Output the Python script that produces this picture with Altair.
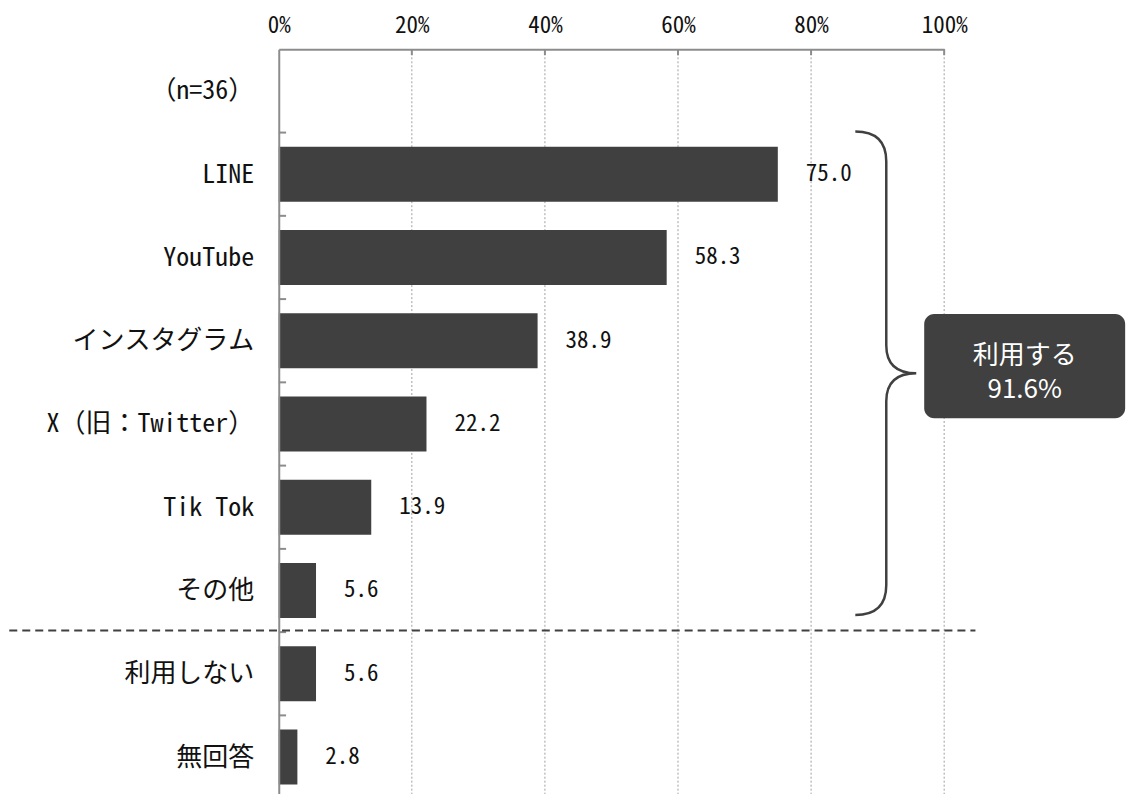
import json
import altair as alt
import pandas as pd

# ---- data ----
categories = ["（n=36）", "LINE", "YouTube", "インスタグラム", "X（旧：Twitter）",
              "Tik Tok", "その他", "利用しない", "無回答"]
values = [None, 75.0, 58.3, 38.9, 22.2, 13.9, 5.6, 5.6, 2.8]
x_tick_values = [0, 20, 40, 60, 80, 100]
grid_values = [20, 40, 60, 80, 100]
summary_text = "利用する\n91.6%"
separator_row = [6.98]       # boundary between その他 and 利用しない
row_boundaries = [1, 2, 3, 4, 5, 6, 7, 8]

# ---- style constants ----
FONT = "Noto Sans Mono CJK JP, Noto Sans CJK JP"
BAR = "#404040"
AXIS = "#8c8c8c"
BAR_HALF = 0.33

bars = pd.DataFrame([
    {"row": i + 0.5, "y0": i + 0.5 - BAR_HALF, "y1": i + 0.5 + BAR_HALF,
     "value": v, "label": f"{v:.1f}"}
    for i, v in enumerate(values) if v is not None
])

xs = alt.Scale(domain=[0, 100], nice=False, zero=False)
ys = alt.Scale(domain=[0, len(categories)], nice=False, zero=False, reverse=True)

x_axis = alt.Axis(orient="top", values=x_tick_values, labelExpr="datum.value + '%'",
                  ticks=False, labelPadding=12, labelFontSize=23, labelFont=FONT,
                  labelColor="#111", domainColor=AXIS, domainWidth=2, grid=False,
                  title=None, zindex=1, labelFlush=False, labelOverlap=False)
y_axis = alt.Axis(orient="left", values=[i + 0.5 for i in range(len(categories))],
                  labelExpr=json.dumps(categories, ensure_ascii=False) + "[floor(datum.value)]",
                  ticks=False, labelPadding=25, labelFontSize=26, labelFont=FONT,
                  labelLimit=400, labelColor="#111", domainColor=AXIS, domainWidth=2,
                  grid=False, title=None, zindex=1, labelOverlap=False)


def X(field):
    return alt.X(field, type="quantitative", scale=xs, axis=x_axis)


def Y(field):
    return alt.Y(field, type="quantitative", scale=ys, axis=y_axis)


grid = alt.Chart(pd.DataFrame({"x": grid_values, "y0": [0] * 5, "y1": [len(categories)] * 5})).mark_rule(
    color="#a0a0a0", strokeWidth=1, strokeDash=[2, 2]
).encode(x=X("x"), y=Y("y0"), y2="y1")

bar_layer = alt.Chart(bars).mark_bar(color=BAR).encode(
    x=alt.X("zero:Q", scale=xs, axis=x_axis), x2="value", y=Y("y0"), y2="y1"
).transform_calculate(zero="0")

labels = alt.Chart(bars).mark_text(align="left", baseline="middle", dx=28, fontSize=23,
                                   font=FONT, color="#111").encode(
    x=X("value"), y=Y("row"), text="label:N")

left_ticks = alt.Chart(pd.DataFrame({"y": row_boundaries, "x0": [0] * 8, "x1": [1.1] * 8})).mark_rule(
    color=AXIS, strokeWidth=2).encode(x=X("x0"), x2="x1", y=Y("y"))

top_ticks = alt.Chart(pd.DataFrame({"x": grid_values, "y0": [0] * 5, "y1": [0.07] * 5})).mark_rule(
    color=AXIS, strokeWidth=2).encode(x=X("x"), y=Y("y0"), y2="y1")

separator = alt.Chart(pd.DataFrame({"y": separator_row, "x0": [-40.5], "x1": [104.7]})).mark_rule(
    color=BAR, strokeWidth=2, strokeDash=[8, 5]).encode(x=X("x0"), x2="x1", y=Y("y"))

BRACE_PATH = ("M -0.128 -1 Q 0 -1 0 -0.876 L 0 -0.116 Q 0 0 0.124 0 "
              "Q 0 0 0 0.116 L 0 0.876 Q 0 1 -0.128 1")
brace = alt.Chart(pd.DataFrame({"x": [91.3], "y": [3.89]})).mark_point(
    shape=BRACE_PATH, size=484 * 484, filled=False, stroke=BAR, strokeWidth=2.5, opacity=1
).encode(x=X("x"), y=Y("y"))

box = alt.Chart(pd.DataFrame({"x0": [97.0], "x1": [127.2], "y0": [3.18], "y1": [4.43]})).mark_rect(
    color=BAR, cornerRadius=10).encode(x=X("x0"), x2="x1", y=Y("y0"), y2="y1")

box_text = alt.Chart(pd.DataFrame({"x": [112.1], "y": [3.8], "t": [summary_text]})).mark_text(
    align="center", baseline="middle", fontSize=26, font="Noto Sans CJK JP", color="white",
    lineBreak="\n", lineHeight=34, dy=-10).encode(x=X("x"), y=Y("y"), text="t:N")

chart = alt.layer(grid, bar_layer, labels, left_ticks, top_ticks, separator, brace, box, box_text).properties(
    width=666, height=750, padding={"left": 0, "top": 6, "right": 0, "bottom": 0}
).configure_view(stroke=None)

chart.save("out.html", embed_options={"renderer": "svg", "actions": False})
